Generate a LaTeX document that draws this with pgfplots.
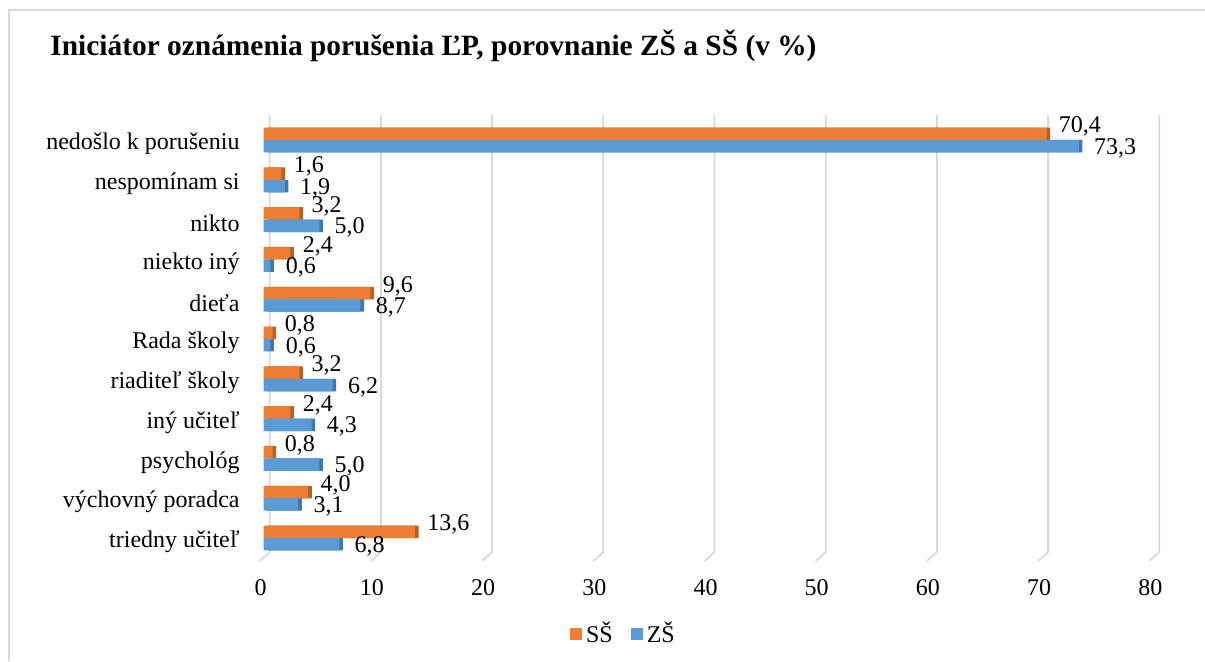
\documentclass[border=0pt]{standalone}
\usepackage{fontspec}
\setmainfont{Liberation Serif}
\usepackage{pgfplots}
\usepackage{pgfplotstable}
\pgfplotsset{compat=1.18}

\definecolor{ssorange}{HTML}{ED7D31}
\definecolor{zsblue}{HTML}{5B9BD5}
\definecolor{ssdark}{HTML}{B8601F}
\definecolor{zsdark}{HTML}{3E78AD}
\definecolor{gridgray}{HTML}{D9D9D9}

% pos: 0 = bottom category
\pgfplotstableread{
pos ss zs
0 13.6 6.8
1 4.0 3.1
2 0.8 5.0
3 2.4 4.3
4 3.2 6.2
5 0.8 0.6
6 9.6 8.7
7 2.4 0.6
8 3.2 5.0
9 1.6 1.9
10 70.4 73.3
}\datatable

\begin{document}
\begin{tikzpicture}
\useasboundingbox (-131.85pt,-54.5pt) rectangle (470.65pt,276pt);
% outer frame (left and top edges visible)
\draw[gridgray, line width=1pt] (-127.35pt,-54.5pt) -- (-127.35pt,271pt) -- (470.65pt,271pt);
% back wall grid lines with 3D floor
\foreach \i in {0,...,8}
  \draw[gridgray, line width=0.9pt] (\i*55.6pt+3pt,218.5pt) -- (\i*55.6pt+3pt,0pt) -- (\i*55.6pt-2pt,-4.5pt);
\node[anchor=base west, font=\bfseries\fontsize{14.7}{18}\selectfont, inner sep=0pt]
  at (-106.85pt,248.5pt) {Iniciátor oznámenia porušenia ĽP, porovnanie ZŠ a SŠ (v \%)};

\begin{axis}[
  at={(0pt,0pt)}, anchor=south west,
  scale only axis, width=444.8pt, height=218.5pt,
  xbar, bar width=6.25pt,
  xmin=0, xmax=80, ymin=-0.352, ymax=10.628,
  xtick={0,10,...,80}, ytick={0,...,10},
  yticklabels={triedny učiteľ, výchovný poradca, psychológ, iný učiteľ, riaditeľ školy,
    Rada školy, dieťa, niekto iný, nikto, nespomínam si, nedošlo k porušeniu},
  axis line style={draw=none}, major tick length=0pt,
  /pgf/number format/assume math mode=true,
  tick label style={font=\fontsize{12}{14}\selectfont},
  xticklabel style={anchor=center, yshift=-18pt, xshift=-1.5pt},
  yticklabel style={anchor=east, inner sep=0pt, xshift=-11.85pt, yshift=-2pt},
  point meta=x,
  every node near coord/.append style={font=\fontsize{12}{14}\selectfont, anchor=west, inner sep=0pt, text=black},
  legend style={draw=none, at={(0.4055,-0.1876)}, anchor=center, legend columns=2,
    font=\fontsize{12}{14}\selectfont,
    /tikz/every even column/.append style={column sep=7pt}},
]
% darker side faces
\addplot[fill=ssdark, draw=none, bar shift=3.1pt, xshift=1.8pt, forget plot] table[x=ss, y=pos] {\datatable};
\addplot[fill=zsdark, draw=none, bar shift=-3.1pt, xshift=1.8pt, forget plot] table[x=zs, y=pos] {\datatable};
% front faces
\addplot[fill=ssorange, draw=none, bar shift=3.1pt,
  nodes near coords={\pgfmathprintnumber[fixed,fixed zerofill,precision=1,use comma,assume math mode=true]{\pgfplotspointmeta}},
  every node near coord/.append style={xshift=6pt, yshift=3.5pt},
  legend image code/.code={\fill[ssorange] (0pt,-3pt) rectangle (6pt,3pt);}]
  table[x=ss, y=pos] {\datatable};
\addplot[fill=zsblue, draw=none, bar shift=-3.1pt,
  nodes near coords={\pgfmathprintnumber[fixed,fixed zerofill,precision=1,use comma,assume math mode=true]{\pgfplotspointmeta}},
  every node near coord/.append style={xshift=7.5pt, yshift=-1pt},
  legend image code/.code={\fill[zsblue] (0pt,-3pt) rectangle (6pt,3pt);}]
  table[x=zs, y=pos] {\datatable};
\legend{SŠ, ZŠ}
\end{axis}
\end{tikzpicture}
\end{document}
